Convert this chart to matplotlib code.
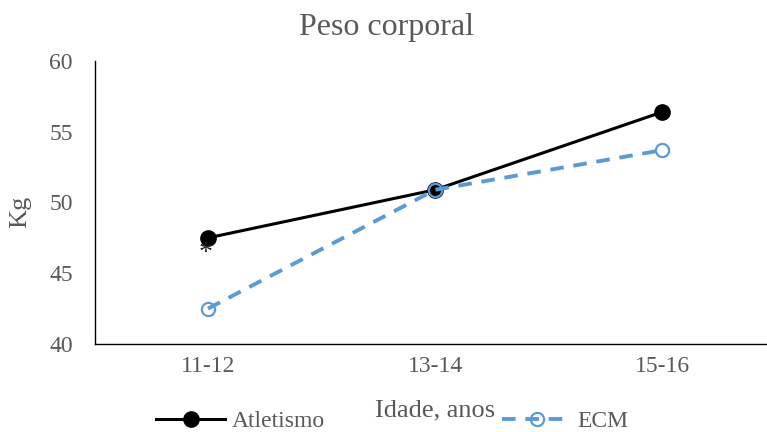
import matplotlib.pyplot as plt
from matplotlib.lines import Line2D

# Data
grupos = ['11-12', '13-14', '15-16']
atletismo = [47.5, 50.9, 56.4]
ecm = [42.5, 50.9, 53.7]

grey = '#595959'
blue = '#5B9BD5'

plt.rcParams['font.family'] = 'Liberation Serif'

fig = plt.figure(figsize=(7.67, 4.32), dpi=100)
ax = fig.add_axes([95 / 767, 1 - 344 / 432, 1 - 95 / 767, (344 - 61) / 432])

x = range(len(grupos))
ax.plot(x, atletismo, color='black', lw=2.2, marker='o', ms=11,
        mfc='black', mec='black', zorder=2)
ax.plot(x, ecm, color=blue, lw=2.8, ls=(0, (3.5, 2.5)), marker='o', ms=9.5,
        mfc='none', mec=blue, mew=1.6, zorder=3)

ax.text(-0.01, atletismo[0] - 0.25, '*', ha='center', va='top', fontsize=20, color='#222222')

ax.set_xlim(-0.497, 2.46)
ax.set_ylim(40, 60)
ax.set_yticks([40, 45, 50, 55, 60])
ax.set_xticks(list(x))
ax.set_xticklabels(grupos)
ax.tick_params(length=0, labelsize=17, colors=grey, pad=9)
ax.tick_params(axis='y', pad=16)

for s in ['top', 'right']:
    ax.spines[s].set_visible(False)
for s in ['left', 'bottom']:
    ax.spines[s].set_color('black')
    ax.spines[s].set_linewidth(1.0)

fig.text(20 / 767, 1 - 212 / 432, 'Kg', ha='center', va='center', rotation=90,
         fontsize=19, color=grey)
fig.text(435 / 767, 1 - 410 / 432, 'Idade, anos', ha='center', va='center',
         fontsize=19, color=grey)
fig.text(387 / 767, 1 - 28 / 432, 'Peso corporal', ha='center', va='center',
         fontsize=23, color=grey)

handles = [
    Line2D([], [], color='black', lw=2.2, marker='o', ms=11, mfc='black'),
    Line2D([], [], color=blue, lw=2.8, ls=(0, (3.5, 2.5)), marker='o', ms=9.5,
           mfc='none', mec=blue, mew=1.6),
]
fig.legend(handles, ['Atletismo', 'ECM'], loc='center', bbox_to_anchor=(392 / 767, 1 - 421 / 432),
           ncol=2, frameon=False, fontsize=17, labelcolor=grey, handlelength=2.96,
           columnspacing=7.5, handletextpad=0.25, borderpad=0)

fig.savefig('out.png', dpi=100)
